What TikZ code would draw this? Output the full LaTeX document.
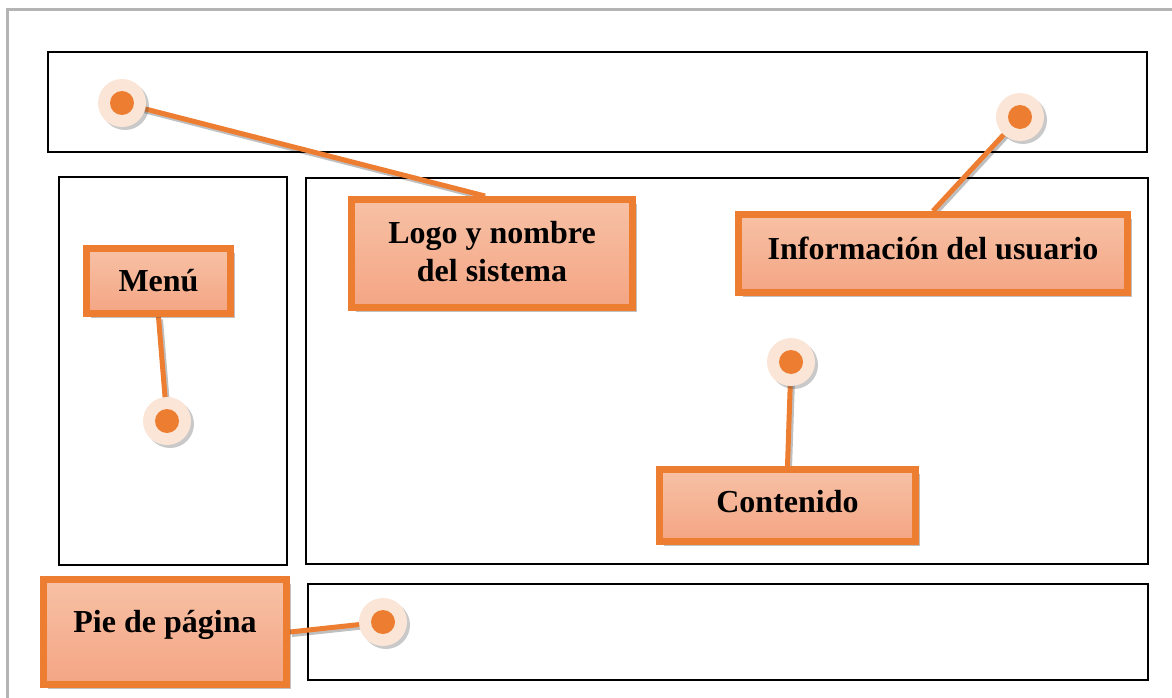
\documentclass[tikz,border=0pt]{standalone}
\usepackage{fontspec}
\setmainfont{Liberation Serif}
\usetikzlibrary{shadows,backgrounds}
\definecolor{accent}{HTML}{ED7D31}
\definecolor{calltop}{HTML}{F7C1A5}
\definecolor{callbot}{HTML}{F4A584}
\definecolor{pinring}{HTML}{FBE5D6}
\definecolor{pageedge}{HTML}{B4B4B4}
\pgfdeclarelayer{frames}
\pgfdeclarelayer{links}
\pgfsetlayers{frames,links,main}
\tikzset{
  region/.style={draw=black, line width=2.5pt},
  callout/.style={draw=accent, line width=7pt, top color=calltop, bottom color=callbot,
    font=\fontsize{32}{38}\selectfont\bfseries, align=center, inner sep=0pt,
    drop shadow={shadow xshift=4pt, shadow yshift=-4pt, opacity=0.35, fill=black!70}},
  ring/.style={circle, fill=pinring, minimum size=48pt, inner sep=0pt,
    drop shadow={shadow xshift=3pt, shadow yshift=-3pt, opacity=0.3, fill=black!70}},
  dotc/.style={circle, fill=accent, minimum size=24pt, inner sep=0pt},
  link/.style={draw=accent, line width=5pt,
    preaction={draw=black, opacity=0.25, line width=5pt, transform canvas={shift={(2pt,-2.5pt)}}}},
}
\begin{document}
\begin{tikzpicture}[x=1pt, y=-1pt]
\useasboundingbox (0,0) rectangle (1172,698);

% page edge and layout regions
\begin{pgfonlayer}{frames}
\draw[pageedge, line width=3pt] (7,698) -- (7,10) -- (1172,10);
\draw[region] (48,52) rectangle (1147,152);
\draw[region] (59,177) rectangle (287,565);
\draw[region] (306,178) rectangle (1148,564);
\draw[region] (308,584) rectangle (1148,680);
\end{pgfonlayer}

% pins
\node[ring] (pLogo) at (122,103) {};
\node[dotc] at (pLogo) {};
\node[ring] (pInfo) at (1020,117) {};
\node[dotc] at (pInfo) {};
\node[ring] (pMenu) at (167,421) {};
\node[dotc] at (pMenu) {};
\node[ring, minimum height=44pt] (pCont) at (791,362) {};
\node[dotc, minimum height=21pt] at (pCont) {};
\node[ring] (pPie) at (383,622) {};
\node[dotc] at (pPie) {};

% callouts
\node[callout, minimum width=281pt, minimum height=108pt, text depth=4pt] (logo) at (492,253.5) {Logo y nombre\\del sistema};
\node[callout, minimum width=389pt, minimum height=78pt, text depth=10pt] (info) at (933,253.5) {Información del usuario};
\node[callout, minimum width=144pt, minimum height=65pt] (menu) at (158.5,281) {Menú};
\node[callout, minimum width=256pt, minimum height=72pt, text depth=8pt] (cont) at (787.5,505.5) {Contenido};
\node[callout, minimum width=243pt, minimum height=105pt, text depth=22pt] (pie) at (165,632) {Pie de página};

% leader lines
\begin{pgfonlayer}{links}
\draw[link] (pLogo.center) -- ([xshift=-7pt]logo.north);
\draw[link] (pInfo.center) -- (info.north);
\draw[link] (menu.south) -- (pMenu.center);
\draw[link] (pCont.center) -- (cont.north);
\draw[link] (pie.east) -- (pPie.center);
\end{pgfonlayer}
\end{tikzpicture}
\end{document}
